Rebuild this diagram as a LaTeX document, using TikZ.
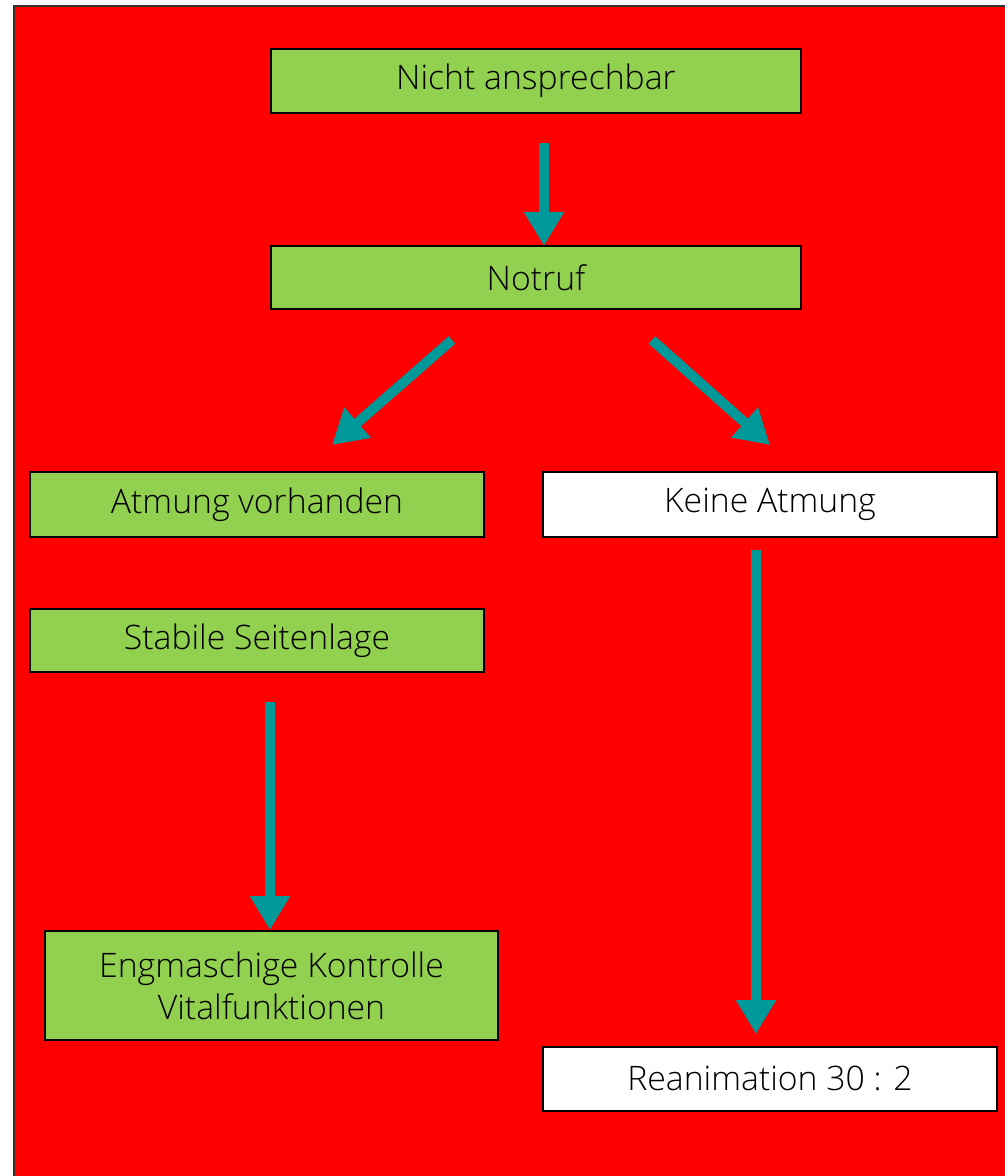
\documentclass[tikz,border=0pt]{standalone}
\usepackage{fontspec}
\setmainfont{Open Sans}[UprightFont={* Light}]
\usetikzlibrary{arrows.meta,positioning}
\definecolor{boxgreen}{RGB}{146,208,80}
\definecolor{arrowteal}{RGB}{0,153,153}

\begin{document}
\begin{tikzpicture}[x=0.025cm,y=-0.025cm,
    box/.style={draw=black,line width=0.05cm,inner sep=0pt,align=center,
                font=\fontsize{24}{30}\selectfont},
    greenbox/.style={box,fill=boxgreen},
    whitebox/.style={box,fill=white},
    flow/.style={draw=arrowteal,line width=0.25cm,
                 -{Triangle[width=0.95cm,length=0.85cm]}}]
    \useasboundingbox (0,0) rectangle (1005,1176);
    \draw[fill=red,draw=black!80,line width=0.05cm] (14,6) rectangle (1030,1200);
    % boxes
    \node[greenbox,minimum width=13.25cm,minimum height=1.6cm] (nicht) at (536,81) {Nicht ansprechbar};
    \node[greenbox,minimum width=13.25cm,minimum height=1.575cm] (notruf) at (536,277.5) {Notruf};
    \node[greenbox,minimum width=11.35cm,minimum height=1.625cm] (atmung) at (257,504.5) {Atmung vorhanden};
    \node[whitebox,minimum width=11.35cm,minimum height=1.625cm] (keine) at (770,504.5) {Keine Atmung};
    \node[greenbox,minimum width=11.35cm,minimum height=1.575cm] (stabil) at (257,640.5) {Stabile Seitenlage};
    \node[greenbox,minimum width=11.325cm,minimum height=2.725cm] (kontrolle) at (271.5,985.5) {Engmaschige Kontrolle\\Vitalfunktionen};
    \node[whitebox,minimum width=11.35cm,minimum height=1.6cm] (reanim) at (770,1078.5) {Reanimation 30 : 2};
    % arrow ends
    \coordinate (nichtout) at (544,143);
    \coordinate (notrufin) at (544,246);
    \coordinate (notrufl) at (452,340);
    \coordinate (atmungin) at (332,445);
    \coordinate (notrufr) at (652,340);
    \coordinate (keinein) at (770,445);
    \coordinate (keineout) at (756,550);
    \coordinate (reanimin) at (756,1034);
    \coordinate (stabilout) at (270,702);
    \coordinate (kontrollein) at (270,930);
    % arrows
    \draw[flow] (nichtout) -- (notrufin);
    \draw[flow] (notrufl) -- (atmungin);
    \draw[flow] (notrufr) -- (keinein);
    \draw[flow] (keineout) -- (reanimin);
    \draw[flow] (stabilout) -- (kontrollein);
\end{tikzpicture}
\end{document}
